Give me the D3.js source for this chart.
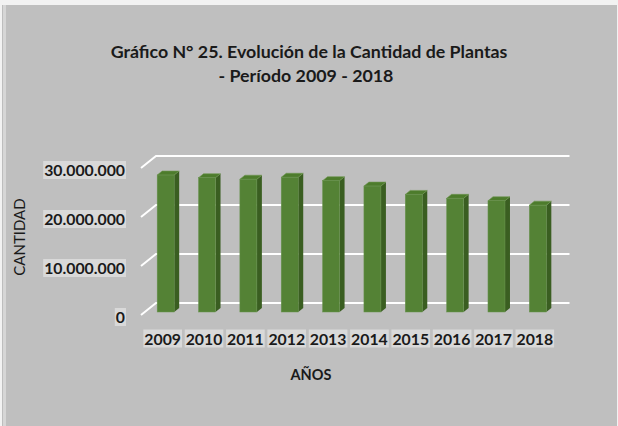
<!DOCTYPE html>
<html>
<head>
<meta charset="utf-8">
<script src="https://cdn.jsdelivr.net/npm/d3@7"></script>
<style>
  html, body { margin: 0; padding: 0; background: #ffffff; }
  svg { display: block; }
  text { font-family: Lato, "Open Sans", sans-serif; }
</style>
</head>
<body>
<svg id="chart" width="618" height="426"></svg>
<script>
// ---- data ----
const years = ["2009","2010","2011","2012","2013","2014","2015","2016","2017","2018"];
const plantas = [27950000, 27400000, 27100000, 27500000, 26800000, 25700000, 24000000, 23200000, 22700000, 21800000];
const yTicks = [0, 10000000, 20000000, 30000000];
const titleLines = ["Gráfico N° 25. Evolución de la Cantidad de Plantas", "- Período 2009 - 2018"];
const yTitle = "CANTIDAD";
const xTitle = "AÑOS";

const svg = d3.select("#chart");
const W = 618, H = 426;

// background frame
svg.append("rect").attr("x", 0).attr("y", 0).attr("width", W).attr("height", H).attr("fill", "#f2f2f2");
svg.append("rect").attr("x", 2).attr("y", 5).attr("width", 1).attr("height", H - 5).attr("fill", "#bdbdbd");
svg.append("rect").attr("x", 3).attr("y", 5).attr("width", 3).attr("height", H - 5).attr("fill", "#d6d6d6");
svg.append("rect").attr("x", 6).attr("y", 5).attr("width", W - 7).attr("height", H - 5).attr("fill", "#bfbfbf");

// depth vector (front plane -> back wall)
const DX = 15, DY = -12;

// scales (front plane)
const x = d3.scaleBand().domain(years).range([141, 554.5]).padding(0);
const y = d3.scaleLinear().domain([0, 30000000]).range([315, 168]);

// gridlines: diagonal on floor/side + horizontal on back wall
const gx0 = 141, gx1 = 554.5;
const grid = svg.append("g");
yTicks.forEach(t => {
  const yf = y(t);
  grid.append("path")
    .attr("d", `M${gx0},${yf} L${gx0 + DX},${yf + DY} L${gx1 + DX},${yf + DY}`)
    .attr("fill", "none").attr("stroke", "#ffffff").attr("stroke-width", 2);
});

// bars (3D columns)
const barW = 17;
const f0 = { dx: 4, dy: -3 };   // offset of the bar front face from the front plane
const bd = { dx: 5, dy: -4 };   // depth of the bar
const bars = svg.append("g");
years.forEach((yr, i) => {
  const cx = x(yr) + x.bandwidth() / 2 + f0.dx;
  const xl = cx - barW / 2, xr = cx + barW / 2;
  const yb = y(0) + f0.dy, yt = y(plantas[i]) + f0.dy;
  // side face
  bars.append("path")
    .attr("d", `M${xr},${yt} L${xr + bd.dx},${yt + bd.dy} L${xr + bd.dx},${yb + bd.dy} L${xr},${yb} Z`)
    .attr("fill", "#3a5e21");
  // top face
  bars.append("path")
    .attr("d", `M${xl},${yt} L${xl + bd.dx},${yt + bd.dy} L${xr + bd.dx},${yt + bd.dy} L${xr},${yt} Z`)
    .attr("fill", "#4d7c2c").attr("stroke", "#6f9650").attr("stroke-width", 0.6);
  // front face
  bars.append("rect")
    .attr("x", xl).attr("y", yt).attr("width", barW).attr("height", yb - yt)
    .attr("fill", "#548235").attr("stroke", "#6a9450").attr("stroke-width", 0.5);
});

// label with light background box
function boxedText(g, tx, ty, str, anchor, size) {
  const t = g.append("text")
    .attr("x", tx).attr("y", ty)
    .attr("text-anchor", anchor).attr("dominant-baseline", "central")
    .attr("font-size", size).attr("font-weight", "bold").attr("fill", "#1a1a1a")
    .text(str);
  const bb = t.node().getBBox();
  g.insert("rect", "text")
    .attr("x", bb.x - 1).attr("y", bb.y + 1).attr("width", bb.width + 2).attr("height", bb.height - 1)
    .attr("fill", "#d9d9d9");
  return t;
}

const fmt = v => d3.format(",")(v).replace(/,/g, ".");
const yAx = svg.append("g");
yTicks.forEach(t => {
  const gg = yAx.append("g");
  boxedText(gg, 125, y(t) + 1.5, fmt(t), "end", 15.8);
});

const xAx = svg.append("g");
years.forEach(yr => {
  const gg = xAx.append("g");
  boxedText(gg, x(yr) + x.bandwidth() / 2 + 1, 338, yr, "middle", 15.8);
});

// titles
const title = svg.append("text")
  .attr("x", 309).attr("text-anchor", "middle")
  .attr("font-size", 17.8).attr("font-weight", "bold").attr("fill", "#1a1a1a");
title.append("tspan").attr("x", 309).attr("y", 58).text(titleLines[0]);
title.append("tspan").attr("x", 306).attr("y", 82).text(titleLines[1]);

svg.append("text")
  .attr("transform", "translate(25,237) rotate(-90)")
  .attr("text-anchor", "middle")
  .attr("font-size", 15).attr("font-weight", "normal").attr("fill", "#1a1a1a")
  .text(yTitle);

svg.append("text")
  .attr("x", 311).attr("y", 380).attr("text-anchor", "middle")
  .attr("font-size", 14.5).attr("font-weight", "bold").attr("fill", "#1a1a1a")
  .text(xTitle);
</script>
</body>
</html>
